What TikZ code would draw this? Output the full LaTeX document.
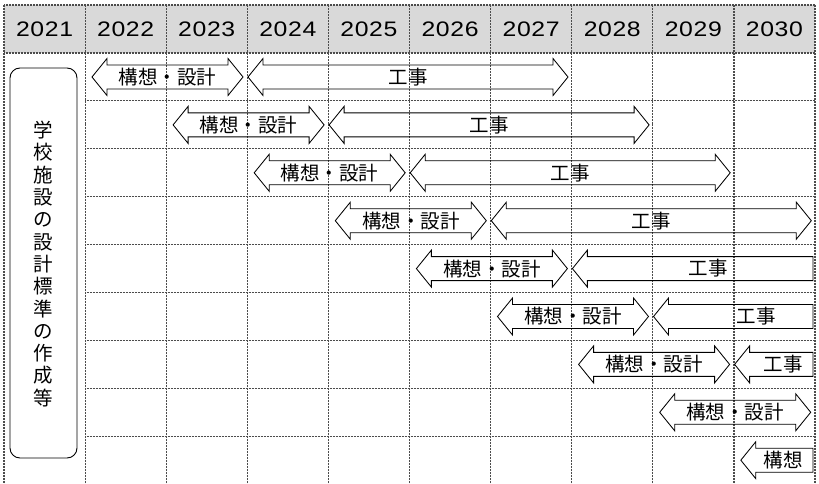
\documentclass[tikz,border=0pt]{standalone}
\usepackage{fontspec}
\setmainfont{Liberation Sans}
\newfontfamily\jpfont{Noto Sans CJK JP}
\newfontfamily\yearfont[FakeStretch=1.18,LetterSpace=3]{Liberation Sans}

\tikzset{
  grid line/.style={black!70, line width=1.2pt, dash pattern=on 1pt off 0.5pt},
  block/.style={draw=black, line width=0.85pt, line join=miter},
  bar text/.style={font=\jpfont\fontsize{19.5}{22}\selectfont, inner sep=0pt},
  year text/.style={font=\yearfont\fontsize{21}{24}\selectfont, inner sep=0pt},
}

% block arrows: left tip, right end, row centre
\newcommand{\blockLR}[3]{%
  \draw[block] (#1,#3) -- (#1+15,#3-18.5) -- (#1+15,#3-12) -- (#2-15,#3-12)
    -- (#2-15,#3-18.5) -- (#2,#3) -- (#2-15,#3+18.5) -- (#2-15,#3+12)
    -- (#1+15,#3+12) -- (#1+15,#3+18.5) -- cycle;}
\newcommand{\blockL}[3]{%
  \draw[block] (#1,#3) -- (#1+15,#3-18.5) -- (#1+15,#3-12) -- (#2,#3-12)
    -- (#2,#3+12) -- (#1+15,#3+12) -- (#1+15,#3+18.5) -- cycle;}

\begin{document}
\begin{tikzpicture}[x=1pt,y=-1pt]
\useasboundingbox (0,0) rectangle (819,484);

% --- header ---
\fill[black!15] (4,5) rectangle (815,53);
\foreach \yr [count=\i from 0] in {2021,...,2030}
  \node[year text] (y\yr) at ({44.55+81.1*\i},29.5) {\yr};

% --- grid ---
\foreach \i in {0,...,10}
  \draw[grid line] ({4+81.1*\i},5) -- ({4+81.1*\i},484);
\draw[grid line] (4,5) -- (815,5);
\draw[grid line] (4,53) -- (815,53);
\foreach \k in {1,...,8}
  \draw[grid line] (85.1,{53+47.9*\k}) -- (815,{53+47.9*\k});

% --- label box ---
\draw[line width=0.9pt, rounded corners=10pt] (10,68) rectangle (77,458);
\node[bar text, align=center, font=\jpfont\fontsize{19.5}{22.3}\selectfont] (title) at (43,264)
  {学\\校\\施\\設\\の\\設\\計\\標\\準\\の\\作\\成\\等};

% --- design bars ---
\foreach \k in {0,...,7} {
  \pgfmathsetmacro\yc{77+47.9*\k}
  \pgfmathsetmacro\xa{92+81.1*\k}
  \pgfmathsetmacro\xb{243+81.1*\k}
  \blockLR{\xa}{\xb}{\yc}
  \node[bar text] (plan\k) at ({(\xa+\xb)/2},\yc) {構想・設計};
}
\blockL{740.8}{813}{460.2}
\node[bar text] (plan8) at (783,460.2) {構想};

% --- works bars ---
\foreach \k in {0,...,3} {
  \pgfmathsetmacro\yc{77+47.9*\k}
  \pgfmathsetmacro\xa{248+81.1*\k}
  \pgfmathsetmacro\xb{568+81.1*\k}
  \blockLR{\xa}{\xb}{\yc}
  \node[bar text] (work\k) at ({(\xa+\xb)/2},\yc) {工事};
}
\foreach \k/\tx in {4/708,5/756,6/783} {
  \pgfmathsetmacro\yc{77+47.9*\k}
  \pgfmathsetmacro\xa{248+81.1*\k}
  \blockL{\xa}{813}{\yc}
  \node[bar text] (work\k) at (\tx,\yc) {工事};
}

\end{tikzpicture}
\end{document}
